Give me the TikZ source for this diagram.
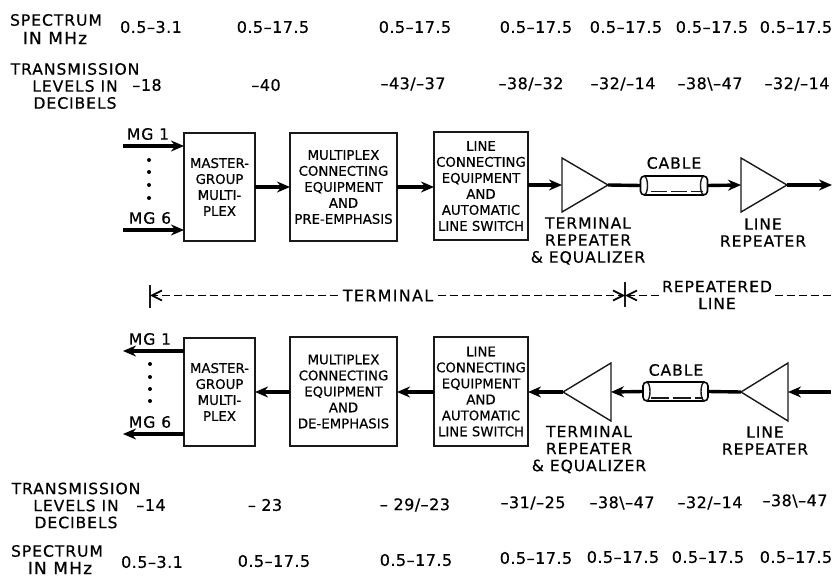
\documentclass[tikz,border=0pt]{standalone}
\usepackage{fontspec}
\setmainfont{DejaVu Sans}
\usetikzlibrary{arrows.meta,shapes.geometric}
\newcommand{\bs}{\textbackslash}
\tikzset{
  x=1pt,y=-1pt,
  every node/.style={inner sep=0pt,outer sep=0pt,text=black},
  boxtext/.style={font=\fontsize{13.3}{16}\selectfont\addfontfeatures{FakeBold=0.5},align=center},
  unit/.style={draw=black!90,line width=1.4pt,boxtext,anchor=north west},
  biglab/.style={font=\fontsize{15.6}{17}\selectfont\addfontfeatures{LetterSpace=6,FakeBold=0.5},align=center},
  unitlab/.style={font=\fontsize{17}{17}\selectfont\addfontfeatures{LetterSpace=7,FakeBold=0.5},align=center},
  val/.style={font=\fontsize{16}{16}\selectfont\addfontfeatures{LetterSpace=3,FakeBold=0.5}},
  amp/.style={draw=black!90,line width=1.4pt,isosceles triangle,isosceles triangle stretches,
     minimum width=54pt,minimum height=46pt,anchor=apex},
  ampback/.style={amp,shape border rotate=180},
  flow/.style={draw=black,line width=3.4pt,-{Stealth[length=13pt,width=11pt]}},
  wire/.style={draw=black,line width=3.4pt},
  dim/.style={draw=black,line width=1.3pt,dash pattern=on 8pt off 4pt},
  dimtip/.style={dim,-{Straight Barb[length=10pt,width=10pt,line width=1.7pt]}},
  tick/.style={draw=black!90,line width=1.4pt},
  pipe/.style={draw=black,line width=1.6pt,rounded corners=4pt,fill=white,minimum width=67pt,minimum height=19pt},
  dot/.style={circle,fill=black,minimum size=4pt},
}
\begin{document}
\begin{tikzpicture}
\useasboundingbox[fill=white] (0,0) rectangle (833,577);
% top header
\node[biglab] (tSpec) at (56,20) {SPECTRUM};
\node[unitlab] (tMhz) at (55,38) {IN MHz};
\node[val] (ts1) at (151,27) {0.5–3.1};
\node[val] (ts2) at (273,27) {0.5–17.5};
\node[val] (ts3) at (415,27) {0.5–17.5};
\node[val] (ts4) at (536,27) {0.5–17.5};
\node[val] (ts5) at (626,27) {0.5–17.5};
\node[val] (ts6) at (712,27) {0.5–17.5};
\node[val] (ts7) at (796,27) {0.5–17.5};
\node[biglab] (tLev) at (75,86) {TRANSMISSION\\LEVELS IN\\DECIBELS};
\node[val] (tl1) at (147,85) {–18};
\node[val] (tl2) at (266,85) {–40};
\node[val] (tl3) at (413,84) {–43/–37};
\node[val] (tl4) at (531,84) {–38/–32};
\node[val] (tl5) at (623,84) {–32/–14};
\node[val] (tl6) at (710,84) {–38\bs–47};
\node[val] (tl7) at (797,84) {–32/–14};
% top chain
\coordinate (inA) at (123,146);
\coordinate (inB) at (123,230);
\coordinate (outT) at (832,185);
\node[biglab] (mgA) at (148,134) {MG 1};
\node[biglab] (mgB) at (150,218) {MG 6};
\node[dot] (d1) at (149,160) {};
\node[dot] (d2) at (149,172) {};
\node[dot] (d3) at (149,185) {};
\node[dot] (d4) at (149,198) {};
\node[unit,minimum width=71pt,minimum height=108pt] (mA) at (184,133) {MASTER-\\GROUP\\MULTI-\\PLEX};
\node[unit,minimum width=107pt,minimum height=108pt] (xA) at (290,133) {MULTIPLEX\\CONNECTING\\EQUIPMENT\\AND\\PRE-EMPHASIS};
\node[unit,minimum width=94pt,minimum height=108pt] (lA) at (434,132) {LINE\\CONNECTING\\EQUIPMENT\\AND\\AUTOMATIC\\LINE SWITCH};
\node[amp] (trA) at (608,185) {};
\node[pipe] (cA) at (674,185.5) {};
\node[amp] (lrA) at (787,185) {};
\node[biglab] (cabA) at (674,163) {CABLE};
\node[biglab] (trTxtA) at (588,241) {TERMINAL\\REPEATER\\\& EQUALIZER};
\node[biglab] (lrTxtA) at (763,232.5) {LINE\\REPEATER};
\draw[flow] (inA) -- (inA -| mA.west);
\draw[flow] (inB) -- (inB -| mA.west);
\draw[flow] (mA.east) -- (xA.west);
\draw[flow] (xA.east) -- (xA.east -| lA.west);
\draw[flow] (lA.east |- trA.lower side) -- (trA.lower side);
\draw[wire] (trA.apex) -- (cA.west);
\draw[flow] (cA.east) -- (lrA.lower side);
\draw[flow] (lrA.apex) -- (outT);
\draw[tick] (cA.north west) ++(4,0.5) arc[start angle=-90,end angle=90,x radius=3,y radius=9];
\draw[tick] (cA.north east) ++(-4,0.5) arc[start angle=-90,end angle=-270,x radius=3,y radius=9];
\draw[tick,dash pattern=on 16pt off 4pt] (cA.south west) ++(10,-3.5) -- ([xshift=-5pt,yshift=3.5pt]cA.south east |- cA.south);
% dimension line
\coordinate (tkL) at (150,295.5);
\coordinate (tkM) at (625,295.5);
\coordinate (endR) at (833,295.5);
\node[font=\fontsize{16}{16}\selectfont\addfontfeatures{LetterSpace=8,FakeBold=0.5}] (term) at (388,295.5) {TERMINAL};
\node[biglab] (rep) at (717,295) {REPEATERED\\LINE};
\draw[tick] (tkL) ++(0,-10.5) -- ++(0,23);
\draw[tick] (tkM) ++(0,-13.5) -- ++(0,25);
\draw[dimtip] (term.west) ++(-5,0) -- (tkL);
\draw[dimtip] (term.east) ++(5,0) -- (tkM);
\draw[dimtip] (rep.west |- tkM) ++(-3,0) -- (tkM);
\draw[dim] (rep.east |- tkM) ++(3,0) -- (endR);
% bottom chain
\coordinate (outA) at (123,351);
\coordinate (outB) at (123,434);
\coordinate (inT) at (831,392);
\node[biglab] (mgC) at (150,339) {MG 1};
\node[biglab] (mgD) at (150,422) {MG 6};
\node[dot] (d5) at (150,364) {};
\node[dot] (d6) at (150,377) {};
\node[dot] (d7) at (150,389) {};
\node[dot] (d8) at (150,401) {};
\node[unit,minimum width=71pt,minimum height=108pt] (mB) at (184,338) {MASTER-\\GROUP\\MULTI-\\PLEX};
\node[unit,minimum width=107pt,minimum height=109pt] (xB) at (290,337) {MULTIPLEX\\CONNECTING\\EQUIPMENT\\AND\\DE-EMPHASIS};
\node[unit,minimum width=94pt,minimum height=109pt] (lB) at (434,337) {LINE\\CONNECTING\\EQUIPMENT\\AND\\AUTOMATIC\\LINE SWITCH};
\node[ampback,minimum width=58pt,minimum height=48pt] (trB) at (563,392) {};
\node[pipe,minimum width=65pt] (cB) at (675.5,391.5) {};
\node[ampback,minimum width=58pt,minimum height=47pt] (lrB) at (741,392) {};
\node[biglab] (cabB) at (676,370) {CABLE};
\node[biglab] (trTxtB) at (589,449.5) {TERMINAL\\REPEATER\\\& EQUALIZER};
\node[biglab] (lrTxtB) at (765,440.5) {LINE\\REPEATER};
\draw[flow] (outA -| mB.west) -- (outA);
\draw[flow] (outB -| mB.west) -- (outB);
\draw[flow] (xB.west |- mB.east) -- (mB.east);
\draw[flow] (lB.west |- mB.east) -- (xB.east |- mB.east);
\draw[flow] (trB.apex) -- (trB.apex -| lB.east);
\draw[flow] (cB.west) -- (trB.lower side);
\draw[wire] (lrB.apex) -- (cB.east);
\draw[flow] (inT) -- (lrB.lower side);
\draw[tick] (cB.north west) ++(4,0.5) arc[start angle=-90,end angle=90,x radius=3,y radius=9];
\draw[tick] (cB.north east) ++(-4,0.5) arc[start angle=-90,end angle=-270,x radius=3,y radius=9];
\draw[tick,dash pattern=on 18pt off 4pt] (cB.south west) ++(8,-3) -- ([xshift=-5pt,yshift=3pt]cB.south east |- cB.south);
% bottom footer
\node[biglab] (bLev) at (76,505.5) {TRANSMISSION\\LEVELS IN\\DECIBELS};
\node[val] (bl1) at (151,505) {–14};
\node[val] (bl2) at (265,505) {– 23};
\node[val] (bl3) at (415,505) {– 29/–23};
\node[val] (bl4) at (533,503) {–31/–25};
\node[val] (bl5) at (622,503) {–38\bs–47};
\node[val] (bl6) at (710,503) {–32/–14};
\node[val] (bl7) at (795,501) {–38\bs–47};
\node[biglab] (bSpec) at (57,551) {SPECTRUM};
\node[unitlab] (bMhz) at (60,568) {IN MHz};
\node[val] (bs1) at (152,562) {0.5–3.1};
\node[val] (bs2) at (274,561) {0.5–17.5};
\node[val] (bs3) at (416,560) {0.5–17.5};
\node[val] (bs4) at (536,558) {0.5–17.5};
\node[val] (bs5) at (623,557) {0.5–17.5};
\node[val] (bs6) at (708,557) {0.5–17.5};
\node[val] (bs7) at (796,557) {0.5–17.5};
\end{tikzpicture}
\end{document}
